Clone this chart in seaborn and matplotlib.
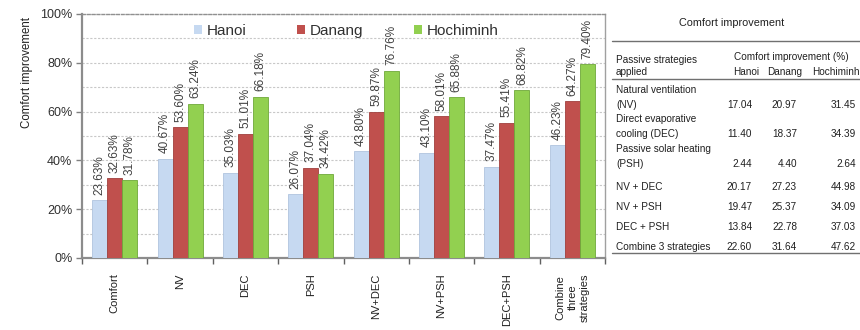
import matplotlib
matplotlib.use("Agg")
import matplotlib.pyplot as plt
from matplotlib.lines import Line2D
import seaborn as sns
import pandas as pd
import numpy as np

# Comfort hours (%) by strategy and city
categories = ["Comfort", "NV", "DEC", "PSH", "NV+DEC", "NV+PSH", "DEC+PSH",
              "Combine\nthree\nstrategies"]
cities = ["Hanoi", "Danang", "Hochiminh"]
hanoi = [23.63, 40.67, 35.03, 26.07, 43.80, 43.10, 37.47, 46.23]
danang = [32.63, 53.60, 51.01, 37.04, 59.87, 58.01, 55.41, 64.27]
hochiminh = [31.78, 63.24, 66.18, 34.42, 76.76, 65.88, 68.82, 79.40]
y_ticks = [0, 20, 40, 60, 80, 100]

# Improvement table
table_title = "Comfort improvement"
table_rows = ["Natural ventilation\n(NV)", "Direct evaporative\ncooling (DEC)",
              "Passive solar heating\n(PSH)", "NV + DEC", "NV + PSH",
              "DEC + PSH", "Combine 3 strategies"]
imp_hanoi = [17.04, 11.40, 2.44, 20.17, 19.47, 13.84, 22.60]
imp_danang = [20.97, 18.37, 4.40, 27.23, 25.37, 22.78, 31.64]
imp_hochiminh = [31.45, 34.39, 2.64, 44.98, 34.09, 37.03, 47.62]

colors = ["#C6D9F1", "#C0504D", "#92D050"]
edges = ["#B0C4DE", "#A0403D", "#6FA83A"]

sns.set_theme(style="white")
plt.rcParams["font.family"] = ["Liberation Sans", "DejaVu Sans"]

df = pd.DataFrame({
    "strategy": categories * 3,
    "city": sum([[c] * len(categories) for c in cities], []),
    "value": hanoi + danang + hochiminh,
})

W, H = 860, 330
fig = plt.figure(figsize=(W / 100, H / 100), dpi=100)
ax = fig.add_axes([82 / W, 1 - 258 / H, (605 - 82) / W, (258 - 14) / H])

sns.barplot(data=df, x="strategy", y="value", hue="city", order=categories,
            hue_order=cities, palette=colors, width=0.69, gap=0,
            saturation=1, ax=ax, legend=False, zorder=3)

for container, ec in zip(ax.containers, edges):
    for bar in container:
        bar.set_edgecolor(ec)
        bar.set_linewidth(0.6)
    ax.bar_label(container, labels=[f"{b.get_height():.2f}%" for b in container],
                 rotation=90, padding=4, fontsize=8.5, color="#404040")

ax.set_ylim(0, 100)
ax.set_xlim(-0.5, len(categories) - 0.5)
ax.set_yticks(y_ticks)
ax.set_yticklabels([f"{t}%" for t in y_ticks], fontsize=9, color="#303030")
ax.set_yticks(np.arange(10, 100, 10), minor=True)
ax.grid(axis="y", which="both", linestyle=(0, (2, 1.5)), color="#C8C8C8",
        linewidth=0.8, zorder=0)
ax.tick_params(axis="y", which="major", length=4, width=1, color="#808080",
               left=True, pad=3)
ax.tick_params(axis="y", which="minor", length=0)

ax.set_xticks(range(len(categories)))
ax.set_xticklabels(categories, rotation=90, fontsize=8, color="#202020",
                   linespacing=1.25)
ax.tick_params(axis="x", which="major", length=0, pad=11)
ax.set_xticks(np.arange(-0.5, len(categories), 1), minor=True)
ax.tick_params(axis="x", which="minor", length=4, width=1, color="#606060",
               bottom=True, direction="out")
ax.set_xlabel("")
ax.set_ylabel("")

for side in ["left", "bottom"]:
    ax.spines[side].set_color("#8C8C8C")
    ax.spines[side].set_linewidth(1.6)
ax.spines["right"].set_color("#A0A0A0")
ax.spines["right"].set_linewidth(1.0)
ax.spines["top"].set_color("#909090")
ax.spines["top"].set_linewidth(1.0)
ax.spines["top"].set_linestyle((0, (2, 1.5)))

fig.text(27 / W, 1 - 72 / H, "Comfort improvement", rotation=90, ha="center",
         va="center", fontsize=8.3, color="#202020")

handles = [plt.Rectangle((0, 0), 1, 1, facecolor=c, edgecolor="none") for c in colors]
ax.legend(handles, cities, loc="center", bbox_to_anchor=(0.505, 1 - 17 / 244),
          ncol=3, frameon=False, fontsize=11, handlelength=0.55,
          handleheight=0.55, handletextpad=0.3, columnspacing=3.3,
          labelcolor="#303030")

# Table drawn in figure pixel coordinates
def fx(px):
    return px / W

def fy(py):
    return 1 - py / H

tkw = dict(fontsize=7.2, color="#202020")
fig.text(fx(732), fy(23), table_title, ha="center", va="center",
         fontsize=7.8, color="#202020")
for yl in [41, 79, 253]:
    fig.add_artist(Line2D([fx(612), fx(860)], [fy(yl), fy(yl)],
                          color="#707070", linewidth=1.0))
fig.text(fx(616), fy(60), "Passive strategies", ha="left", va="center", **tkw)
fig.text(fx(616), fy(72), "applied", ha="left", va="center", **tkw)
fig.text(fx(791), fy(57), "Comfort improvement (%)", ha="center", va="center", **tkw)
for name, cx in zip(cities, [746, 785, 836]):
    fig.text(fx(cx), fy(72), name, ha="center", va="center", **tkw)

row_y = [(90, 105), (119, 134), (149, 164), (None, 187), (None, 207),
         (None, 227), (None, 247)]
for label, (y1, y2), a, b, c in zip(table_rows, row_y, imp_hanoi, imp_danang,
                                    imp_hochiminh):
    parts = label.split("\n")
    if y1 is not None:
        fig.text(fx(616), fy(y1), parts[0], ha="left", va="center", **tkw)
        fig.text(fx(616), fy(y2), parts[1], ha="left", va="center", **tkw)
    else:
        fig.text(fx(616), fy(y2), parts[0], ha="left", va="center", **tkw)
    for v, rx in zip([a, b, c], [752, 797, 856]):
        fig.text(fx(rx), fy(y2), f"{v:.2f}", ha="right", va="center", **tkw)

fig.savefig("out.png", dpi=100, facecolor="white")
